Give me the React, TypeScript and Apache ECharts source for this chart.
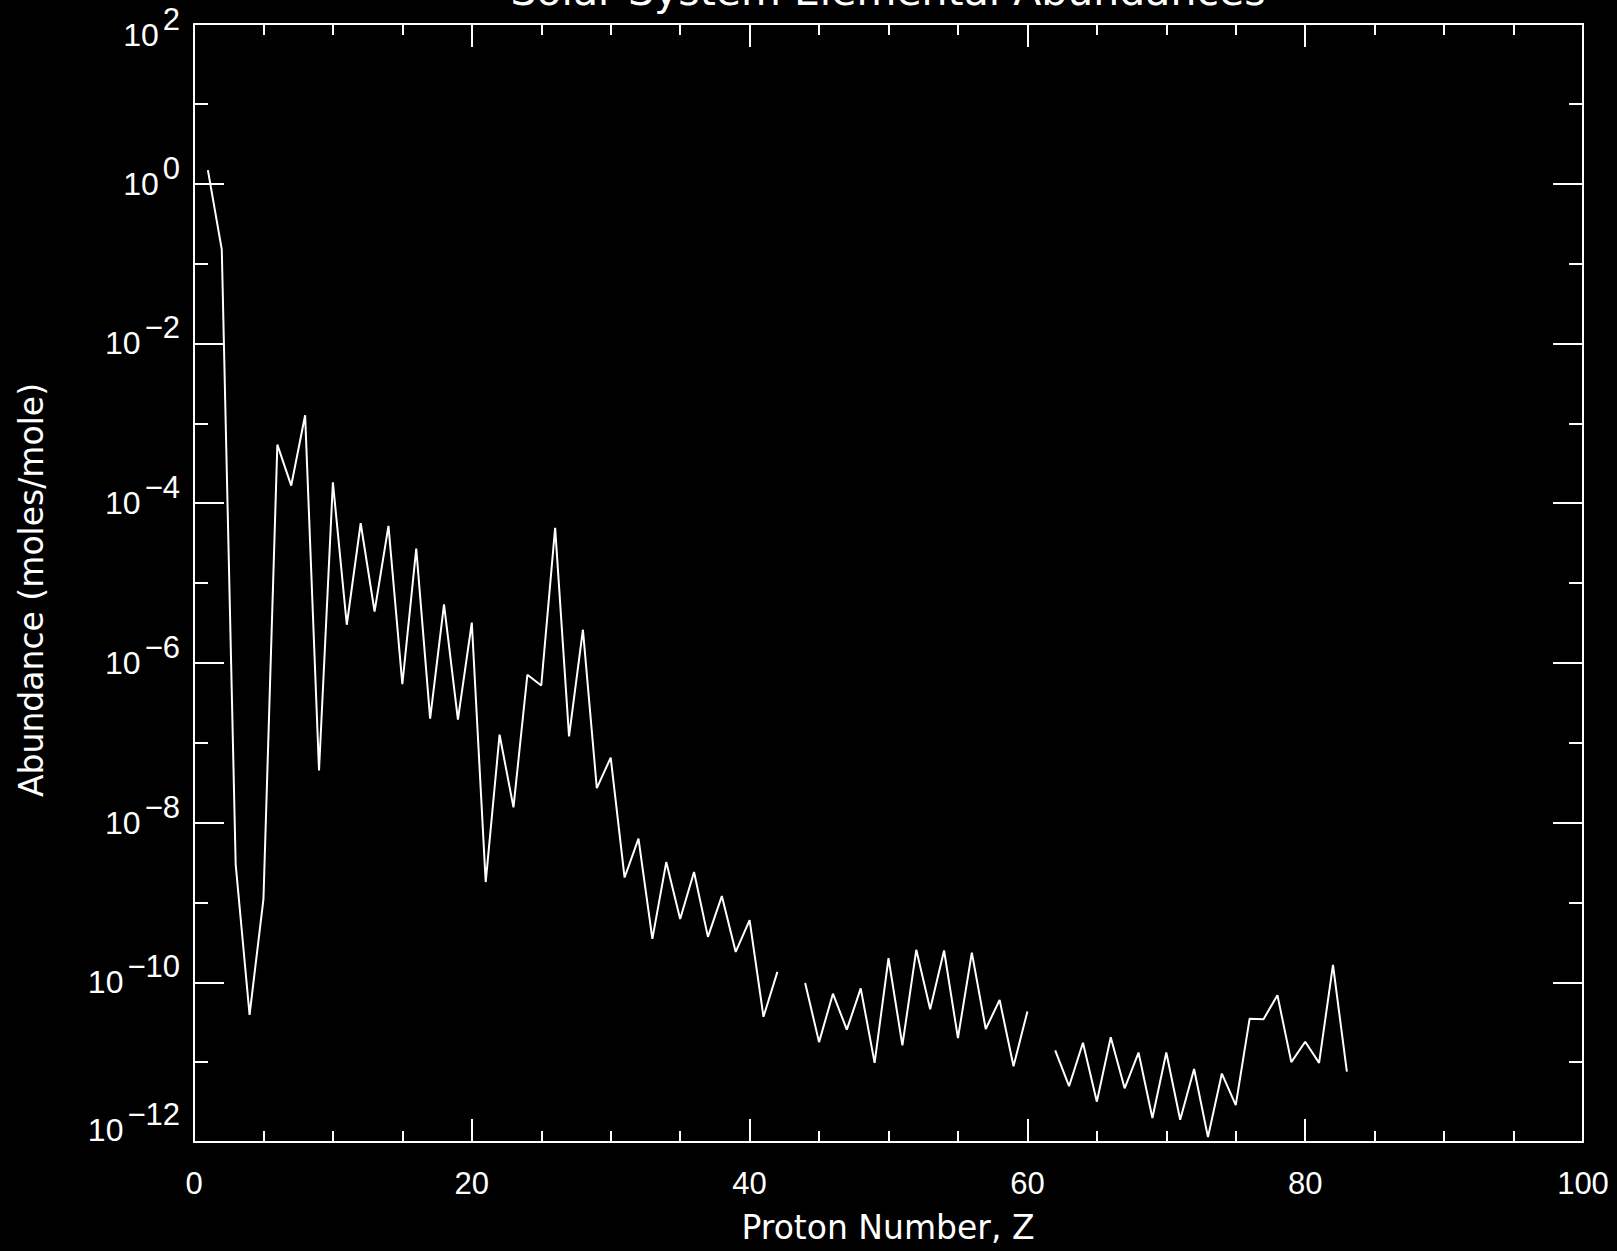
import React, { useEffect, useRef } from "react";
import * as echarts from "echarts";

const chartTitle = "Solar System Elemental Abundances";
const xAxisTitle = "Proton Number, Z";
const yAxisTitle = "Abundance (moles/mole)";

const protonNumbers = [
  1, 2, 3, 4, 5, 6, 7, 8, 9, 10,
  11, 12, 13, 14, 15, 16, 17, 18, 19, 20,
  21, 22, 23, 24, 25, 26, 27, 28, 29, 30,
  31, 32, 33, 34, 35, 36, 37, 38, 39, 40,
  41, 42, 43, 44, 45, 46, 47, 48, 49, 50,
  51, 52, 53, 54, 55, 56, 57, 58, 59, 60,
  61, 62, 63, 64, 65, 66, 67, 68, 69, 70,
  71, 72, 73, 74, 75, 76, 77, 78, 79, 80,
  81, 82, 83,
];

// moles/mole (null = no data: Tc, Pm)
const abundances: (number | null)[] = [
  1.48, 1.5e-1, 3.0e-9, 3.9e-11, 1.1e-9, 5.4e-4, 1.66e-4, 1.26e-3, 4.5e-8, 1.82e-4,
  3.0e-6, 5.6e-5, 4.4e-6, 5.2e-5, 5.4e-7, 2.7e-5, 2.0e-7, 5.4e-6, 1.95e-7, 3.2e-6,
  1.8e-9, 1.26e-7, 1.55e-8, 7.1e-7, 5.2e-7, 4.9e-5, 1.2e-7, 2.6e-6, 2.7e-8, 6.5e-8,
  2.05e-9, 6.3e-9, 3.5e-10, 3.2e-9, 6.2e-10, 2.4e-9, 3.7e-10, 1.2e-9, 2.4e-10, 6.0e-10,
  3.7e-11, 1.35e-10, null, 9.8e-11, 1.78e-11, 7.2e-11, 2.55e-11, 8.4e-11, 9.8e-12, 2.0e-10,
  1.62e-11, 2.55e-10, 4.6e-11, 2.5e-10, 2.0e-11, 2.35e-10, 2.6e-11, 6.0e-11, 8.9e-12, 4.3e-11,
  null, 1.4e-11, 5.0e-12, 1.75e-11, 3.2e-12, 2.05e-11, 4.7e-12, 1.32e-11, 2.0e-12, 1.32e-11,
  1.9e-12, 8.2e-12, 1.15e-12, 7.2e-12, 2.9e-12, 3.5e-11, 3.45e-11, 6.9e-11, 1.0e-11, 1.8e-11,
  9.8e-12, 1.65e-10, 7.6e-12,
];

const xMin = 0;
const xMax = 100;
const xInterval = 20;
const yMin = 1e-12;
const yMax = 1e2;
const yMajorDecadeStep = 2;
const yMinorDecadeStep = 1;

const WHITE = "#ffffff";
const DIGIT_FONT = "Liberation Sans";
const TEXT_FONT = "DejaVu Sans";

export default function App() {
  const ref = useRef<HTMLDivElement>(null);

  useEffect(() => {
    if (!ref.current) return;
    const chart = echarts.init(ref.current, null, { renderer: "svg" });

    const seriesData = protonNumbers.map((z, i) => [
      z,
      abundances[i] == null ? "-" : abundances[i],
    ]);

    const yLabelFormatter = (v: number) => {
      const e = Math.round(Math.log10(v));
      const exp = e < 0 ? "\u2212" + String(-e) : String(e);
      const suf = e === 2 ? "T" : e === -12 ? "B" : "M";
      return `{b${suf}|10}{s${suf}|${exp}}`;
    };

    const base = { fontFamily: DIGIT_FONT, color: WHITE, verticalAlign: "bottom" };
    const rich: any = {
      bM: { ...base, fontSize: 32, lineHeight: 32, padding: [0, 0, 0, 0] },
      sM: { ...base, fontSize: 31, lineHeight: 31, padding: [0, 0, 16, 4] },
      bT: { ...base, fontSize: 32, lineHeight: 54, padding: [0, 0, 0, 0] },
      sT: { ...base, fontSize: 31, lineHeight: 54, padding: [0, 0, 16, 4] },
      bB: { ...base, fontSize: 32, lineHeight: 32, padding: [0, 0, 12, 0] },
      sB: { ...base, fontSize: 31, lineHeight: 31, padding: [0, 0, 28, 4] },
    };

    const axisLine = { show: true, onZero: false, lineStyle: { color: WHITE, width: 2 } };
    const noLine = { show: false, onZero: false };

    const xAxisCommon = {
      type: "value",
      min: xMin,
      max: xMax,
      interval: xInterval,
      axisLine,
      axisTick: { show: true, inside: true, length: 23, lineStyle: { color: WHITE, width: 2 } },
      minorTick: { show: true, splitNumber: 4, length: 11, lineStyle: { color: WHITE, width: 2 } },
      splitLine: { show: false },
      minorSplitLine: { show: false },
    };

    const yMajor = {
      type: "log",
      logBase: 10,
      min: yMin,
      max: yMax,
      interval: yMajorDecadeStep,
      axisLine,
      axisTick: { show: true, inside: true, length: 30, lineStyle: { color: WHITE, width: 2 } },
      minorTick: { show: false },
      splitLine: { show: false },
      minorSplitLine: { show: false },
    };

    const yMinor = {
      type: "log",
      logBase: 10,
      min: yMin,
      max: yMax,
      interval: yMinorDecadeStep,
      axisLine: noLine,
      axisTick: { show: true, inside: true, length: 14, lineStyle: { color: WHITE, width: 2 } },
      axisLabel: { show: false },
      minorTick: { show: false },
      splitLine: { show: false },
      minorSplitLine: { show: false },
    };

    chart.setOption({
      animation: false,
      backgroundColor: "#000000",
      grid: {
        left: 194,
        right: 34,
        top: 24,
        bottom: 109,
        containLabel: false,
        outerBoundsMode: "none",
      },
      xAxis: [
        {
          ...xAxisCommon,
          position: "bottom",
          axisLabel: {
            show: true,
            color: WHITE,
            fontFamily: DIGIT_FONT,
            fontSize: 31,
            margin: 26,
          },
        },
        { ...xAxisCommon, position: "top", axisLabel: { show: false } },
      ],
      yAxis: [
        {
          ...yMajor,
          position: "left",
          axisLabel: {
            show: true,
            margin: 14,
            formatter: yLabelFormatter,
            rich,
          },
        },
        { ...yMajor, position: "right", axisLabel: { show: false } },
        { ...yMinor, position: "left" },
        { ...yMinor, position: "right" },
      ],
      series: [
        {
          type: "line",
          xAxisIndex: 0,
          yAxisIndex: 0,
          data: seriesData,
          showSymbol: false,
          symbol: "none",
          connectNulls: false,
          lineStyle: { color: WHITE, width: 2 },
          emphasis: { disabled: true },
        },
      ],
      graphic: [
        {
          type: "text",
          x: 888,
          y: -9,
          style: {
            text: chartTitle,
            fill: WHITE,
            font: `41px '${TEXT_FONT}'`,
            textAlign: "center",
            textVerticalAlign: "middle",
          },
        },
        {
          type: "text",
          x: 888,
          y: 1227,
          style: {
            text: xAxisTitle,
            fill: WHITE,
            font: `33px '${TEXT_FONT}'`,
            textAlign: "center",
            textVerticalAlign: "middle",
          },
        },
        {
          type: "text",
          x: 31,
          y: 590,
          rotation: Math.PI / 2,
          style: {
            text: yAxisTitle,
            fill: WHITE,
            font: `33px '${TEXT_FONT}'`,
            textAlign: "center",
            textVerticalAlign: "middle",
          },
        },
      ],
    });

    return () => chart.dispose();
  }, []);

  return (
    <div
      ref={ref}
      style={{
        position: "fixed",
        left: 0,
        top: 0,
        width: 1617,
        height: 1251,
        background: "#000",
      }}
    />
  );
}
